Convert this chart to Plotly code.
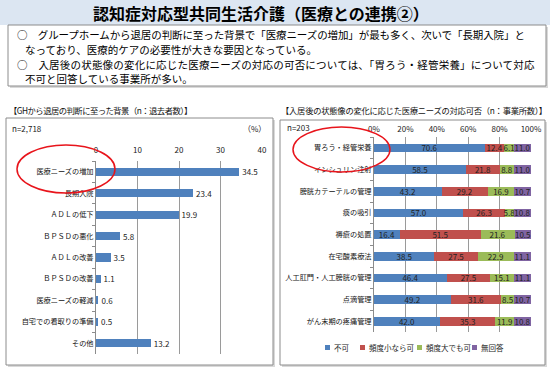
import plotly.graph_objects as go

W, H = 550, 369
FONT = "Noto Sans CJK JP"

# ---------------- data ----------------
left_categories = ["医療ニーズの増加", "長期入院", "ＡＤＬの低下", "ＢＰＳＤの悪化", "ＡＤＬの改善",
                   "ＢＰＳＤの改善", "医療ニーズの軽減", "自宅での看取りの準備", "その他"]
left_values = [34.5, 23.4, 19.9, 5.8, 3.5, 1.1, 0.6, 0.5, 13.2]
left_ticks = [0, 10, 20, 30, 40]

right_categories = ["胃ろう・経管栄養", "インシュリン注射", "膀胱カテーテルの管理", "痰の吸引", "褥瘡の処置",
                    "在宅酸素療法", "人工肛門・人工膀胱の管理", "点滴管理", "がん末期の疼痛管理"]
series_names = ["不可", "頻度小なら可", "頻度大でも可", "無回答"]
s_fuka = [70.6, 58.5, 43.2, 57.0, 16.4, 38.5, 46.4, 49.2, 42.0]
s_shou = [12.4, 21.8, 29.2, 26.3, 51.5, 27.5, 27.5, 31.6, 35.3]
s_dai = [6.1, 8.8, 16.9, 5.8, 21.6, 22.9, 15.1, 8.5, 11.9]
s_mukaitou = [11.0, 11.0, 10.7, 10.8, 10.5, 11.1, 11.1, 10.7, 10.8]
right_ticks = [0, 20, 40, 60, 80, 100]

title_text = "認知症対応型共同生活介護（医療との連携②）"
body_lines = [
    "○　グループホームから退居の判断に至った背景で「医療ニーズの増加」が最も多く、次いで「長期入院」と",
    "なっており、医療的ケアの必要性が大きな要因となっている。",
    "○　入居後の状態像の変化に応じた医療ニーズの対応の可否については、「胃ろう・経管栄養」について対応",
    "不可と回答している事業所が多い。",
]
left_caption = "【GHから退居の判断に至った背景（n：退去者数）】"
right_caption = "【入居後の状態像の変化に応じた医療ニーズの対応可否（n：事業所数）】"
left_n = "n=2,718"
right_n = "n=203"

colors = ["#4F81BD", "#C0504D", "#9BBB59", "#8064A2"]


def px(x):
    return x / W


def py(y):
    return 1 - y / H


def spaced(txt, ls):
    return f'<span style="letter-spacing:{ls}px">{txt}</span>'


fig = go.Figure()

fig.add_trace(go.Bar(
    y=left_categories, x=left_values, orientation="h", xaxis="x", yaxis="y",
    marker=dict(color=colors[0], line=dict(width=0)), width=0.38,
    text=[f"{v:.1f}" for v in left_values], textposition="outside", textangle=0,
    textfont=dict(size=8, color="#222", family=FONT), cliponaxis=False, showlegend=False,
))

for name, vals, col in zip(series_names, [s_fuka, s_shou, s_dai, s_mukaitou], colors):
    fig.add_trace(go.Bar(
        y=right_categories, x=vals, orientation="h", xaxis="x2", yaxis="y2", name=name,
        marker=dict(color=col, line=dict(width=0)), width=0.4,
        text=[f"{v:.1f}" for v in vals], textposition="inside", insidetextanchor="middle",
        textangle=0, textfont=dict(size=8, color="#222", family=FONT), showlegend=False,
    ))

shapes = []
# title band
shapes.append(dict(type="rect", xref="paper", yref="paper", x0=0, x1=1, y0=py(25), y1=py(0),
                   fillcolor="#DCE6F2", line=dict(width=0), layer="below"))
# boxes with soft shadows
for (x0, y0, x1, y1) in [(8, 25, 546, 86), (6, 118, 273, 365), (280, 120, 545, 365)]:
    shapes.append(dict(type="rect", xref="paper", yref="paper", x0=px(x0 + 2), x1=px(x1 + 2),
                       y0=py(y1 + 2), y1=py(y0 + 2), fillcolor="#D9D9D9", line=dict(width=0), layer="below"))
    shapes.append(dict(type="rect", xref="paper", yref="paper", x0=px(x0), x1=px(x1),
                       y0=py(y1), y1=py(y0), fillcolor="white", line=dict(color="#8C8C8C", width=1), layer="below"))
# red ellipses
shapes.append(dict(type="circle", xref="paper", yref="paper", x0=px(17), x1=px(115), y0=py(193), y1=py(145),
                   line=dict(color="#E8141B", width=1.5), layer="above"))
shapes.append(dict(type="circle", xref="paper", yref="paper", x0=px(293), x1=px(390), y0=py(172), y1=py(127),
                   line=dict(color="#E8141B", width=1.5), layer="above"))

annotations = []
annotations.append(dict(text=f"<b>{title_text}</b>", xref="paper", yref="paper", x=px(261), y=py(12.5),
                        xanchor="center", yanchor="middle", showarrow=False,
                        font=dict(size=16, color="#000", family=FONT)))
for txt, x, y, ls in zip(body_lines, [15, 23, 15, 23], [35, 50, 64, 78], [-0.1, 0, 0.2, 0]):
    annotations.append(dict(text=spaced(txt, ls), xref="paper", yref="paper", x=px(x), y=py(y), xanchor="left",
                            yanchor="middle", showarrow=False, font=dict(size=10.5, color="#000", family=FONT)))
annotations.append(dict(text=spaced(left_caption, -0.5), xref="paper", yref="paper", x=px(7), y=py(110),
                        xanchor="left", yanchor="middle", showarrow=False,
                        font=dict(size=8.3, color="#111", family=FONT)))
annotations.append(dict(text=spaced(right_caption, -0.25), xref="paper", yref="paper", x=px(279), y=py(110),
                        xanchor="left", yanchor="middle", showarrow=False,
                        font=dict(size=8.3, color="#111", family=FONT)))
annotations.append(dict(text=left_n, xref="paper", yref="paper", x=px(10), y=py(128), xanchor="left",
                        yanchor="middle", showarrow=False, font=dict(size=8, color="#222", family=FONT)))
annotations.append(dict(text="（%）", xref="paper", yref="paper", x=px(268), y=py(128), xanchor="right",
                        yanchor="middle", showarrow=False, font=dict(size=8, color="#222", family=FONT)))
annotations.append(dict(text=right_n, xref="paper", yref="paper", x=px(285), y=py(127), xanchor="left",
                        yanchor="middle", showarrow=False, font=dict(size=8, color="#222", family=FONT)))

# manual legend
for name, col, sx in zip(series_names, colors, [325, 360, 417, 472]):
    shapes.append(dict(type="rect", xref="paper", yref="paper", x0=px(sx), x1=px(sx + 5),
                       y0=py(350), y1=py(345), fillcolor=col, line=dict(width=0)))
    annotations.append(dict(text=name, xref="paper", yref="paper", x=px(sx + 6.5), y=py(347.5), xanchor="left",
                            yanchor="middle", showarrow=False, font=dict(size=7.5, color="#222", family=FONT)))

axis_common = dict(fixedrange=True, zeroline=False, automargin=False)

fig.update_layout(
    width=W, height=H, margin=dict(l=0, r=0, t=0, b=0, autoexpand=False),
    paper_bgcolor="white", plot_bgcolor="rgba(0,0,0,0)",
    barmode="stack", showlegend=False,
    font=dict(family=FONT, size=8, color="#222"),
    uniformtext=dict(minsize=8, mode="show"),
    shapes=shapes, annotations=annotations,
    xaxis=dict(domain=[px(96), px(262)], range=[0, 40], side="top", anchor="y",
               tickvals=left_ticks, showgrid=True, gridcolor="#9A9A9A", gridwidth=1,
               ticks="outside", ticklen=4, tickcolor="rgba(0,0,0,0)", showline=False,
               tickfont=dict(size=8, color="#222"), **axis_common),
    yaxis=dict(domain=[py(354), py(161)], anchor="x", type="category",
               categoryorder="array", categoryarray=left_categories, autorange="reversed",
               showline=True, linecolor="#8C8C8C", ticks="outside", ticklen=3, tickcolor="#8C8C8C",
               tickson="boundaries", showgrid=False, tickfont=dict(size=7.2, color="#111"), **axis_common),
    xaxis2=dict(domain=[px(374), px(531)], range=[0, 100], side="top", anchor="y2",
                tickvals=right_ticks, ticktext=[f"{t}%" for t in right_ticks],
                showgrid=True, gridcolor="#9A9A9A", gridwidth=1,
                ticks="outside", ticklen=1, tickcolor="rgba(0,0,0,0)", showline=False,
                tickfont=dict(size=8, color="#222"), **axis_common),
    yaxis2=dict(domain=[py(332), py(137)], anchor="x2", type="category",
                categoryorder="array", categoryarray=right_categories, autorange="reversed",
                showline=True, linecolor="#8C8C8C", ticks="outside", ticklen=3, tickcolor="#8C8C8C",
                tickson="boundaries", showgrid=False, tickfont=dict(size=7.2, color="#111"), **axis_common),
)

fig.write_html("out.html", config={"displayModeBar": False, "staticPlot": True},
               post_script="document.body.style.margin='0px';document.body.style.overflow='hidden';")
